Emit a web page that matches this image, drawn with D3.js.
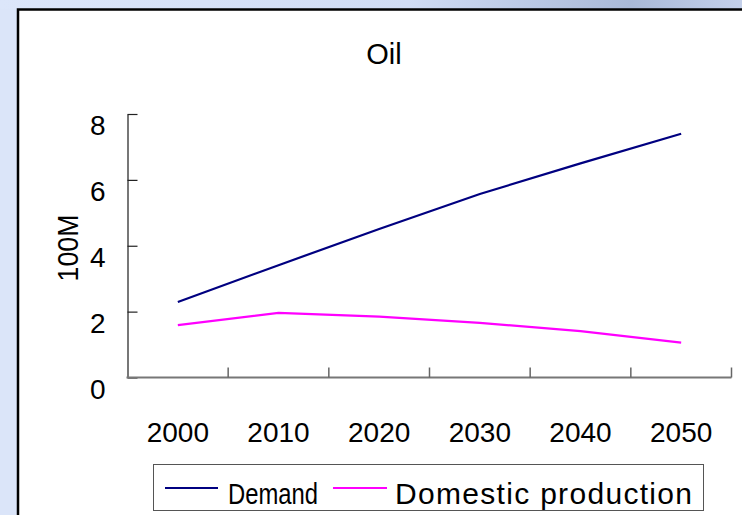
<!DOCTYPE html>
<html>
<head>
<meta charset="utf-8">
<script src="https://cdn.jsdelivr.net/npm/d3@7"></script>
<style>
  body { margin: 0; background: #dbe5f9; }
  svg { display: block; }
  text { font-family: "Liberation Sans", Arial, sans-serif; fill: #000; }
</style>
</head>
<body>
<svg id="chart"></svg>
<script>
const years = ["2000", "2010", "2020", "2030", "2040", "2050"];
const demand = [2.29, 3.41, 4.51, 5.57, 6.50, 7.40];
const domestic = [1.59, 1.96, 1.85, 1.66, 1.41, 1.06];
const yTicks = [0, 2, 4, 6, 8];
const seriesNames = ["Demand", "Domestic production"];
const seriesColors = ["#000080", "#ff00ff"];

const W = 742, H = 515;
const svg = d3.select("#chart").attr("width", W).attr("height", H);

// slide background
const defs = svg.append("defs");
const grad = defs.append("linearGradient").attr("id", "topband");
grad.append("stop").attr("offset", "0%").attr("stop-color", "#dce6fa");
grad.append("stop").attr("offset", "55%").attr("stop-color", "#d0dcf4");
grad.append("stop").attr("offset", "85%").attr("stop-color", "#a9b9d8");
grad.append("stop").attr("offset", "100%").attr("stop-color", "#c4d0ea");
svg.append("rect").attr("width", W).attr("height", H).attr("fill", "#dbe5f9");
svg.append("rect").attr("width", W).attr("height", 9).attr("fill", "url(#topband)");

// chart frame
svg.append("rect")
    .attr("x", 18).attr("y", 9.5)
    .attr("width", W).attr("height", H)
    .attr("fill", "white")
    .attr("stroke", "black")
    .attr("stroke-width", 2.5);

const x = d3.scaleBand().domain(years).range([127.5, 731.5]);
const y = d3.scaleLinear().domain([0, 8]).range([377.5, 114]);
const cx = d => x(d) + x.bandwidth() / 2;

// title
svg.append("text")
    .attr("x", 384).attr("y", 64)
    .attr("text-anchor", "middle")
    .style("font-size", "29px")
    .text("Oil");

// y axis
const yAxis = svg.append("g")
    .attr("transform", `translate(${x.range()[0]},0)`)
    .call(d3.axisLeft(y).tickValues(yTicks).tickSizeInner(-10).tickSizeOuter(0).tickPadding(22));
yAxis.select(".domain").attr("stroke", "#777").attr("stroke-width", 2);
yAxis.selectAll(".tick line").attr("stroke", "#222").attr("stroke-width", 1.2);
yAxis.selectAll(".tick text")
    .attr("dy", "0.74em")
    .style("font-size", "28px")
    .style("font-family", "Liberation Sans, Arial, sans-serif");

// x axis: line, boundary ticks, centred labels
const xAxis = svg.append("g").attr("transform", `translate(0,${y(0)})`);
xAxis.append("line")
    .attr("x1", x.range()[0] - 1).attr("x2", x.range()[1])
    .attr("stroke", "#777").attr("stroke-width", 2);
xAxis.selectAll(".bt")
    .data(years.slice(1).map(d => x(d)).concat([x.range()[1]]))
    .enter().append("line")
    .attr("x1", d => d).attr("x2", d => d)
    .attr("y1", 0).attr("y2", -10)
    .attr("stroke", "#666").attr("stroke-width", 1.5);
xAxis.selectAll(".lbl")
    .data(years)
    .enter().append("text")
    .attr("x", cx)
    .attr("y", 64.5)
    .attr("text-anchor", "middle")
    .style("font-size", "28px")
    .text(d => d);

// y axis title
svg.append("text")
    .attr("transform", "translate(78,248) rotate(-90)")
    .attr("text-anchor", "middle")
    .attr("textLength", 67)
    .attr("lengthAdjust", "spacingAndGlyphs")
    .style("font-size", "30px")
    .text("100M");

// lines
const line = d3.line().x((d, i) => cx(years[i])).y(d => y(d));
[demand, domestic].forEach((s, i) => {
    svg.append("path")
        .datum(s)
        .attr("d", line)
        .attr("fill", "none")
        .attr("stroke", seriesColors[i])
        .attr("stroke-width", 2.2);
});

// legend
const leg = svg.append("g");
leg.append("rect")
    .attr("x", 153.5).attr("y", 464.5)
    .attr("width", 550).attr("height", 46)
    .attr("fill", "white")
    .attr("stroke", "#555").attr("stroke-width", 1);
const legItems = [
    { x1: 165, x2: 218, tx: 228, tw: 90 },
    { x1: 333, x2: 387, tx: 395, tw: 297 }
];
legItems.forEach((it, i) => {
    leg.append("line")
        .attr("x1", it.x1).attr("x2", it.x2)
        .attr("y1", 488).attr("y2", 488)
        .attr("stroke", seriesColors[i]).attr("stroke-width", 2);
    leg.append("text")
        .attr("x", it.tx).attr("y", 504)
        .attr("textLength", it.tw)
        .attr("lengthAdjust", i === 0 ? "spacingAndGlyphs" : "spacing")
        .style("font-size", "30px")
        .text(seriesNames[i]);
});
</script>
</body>
</html>
